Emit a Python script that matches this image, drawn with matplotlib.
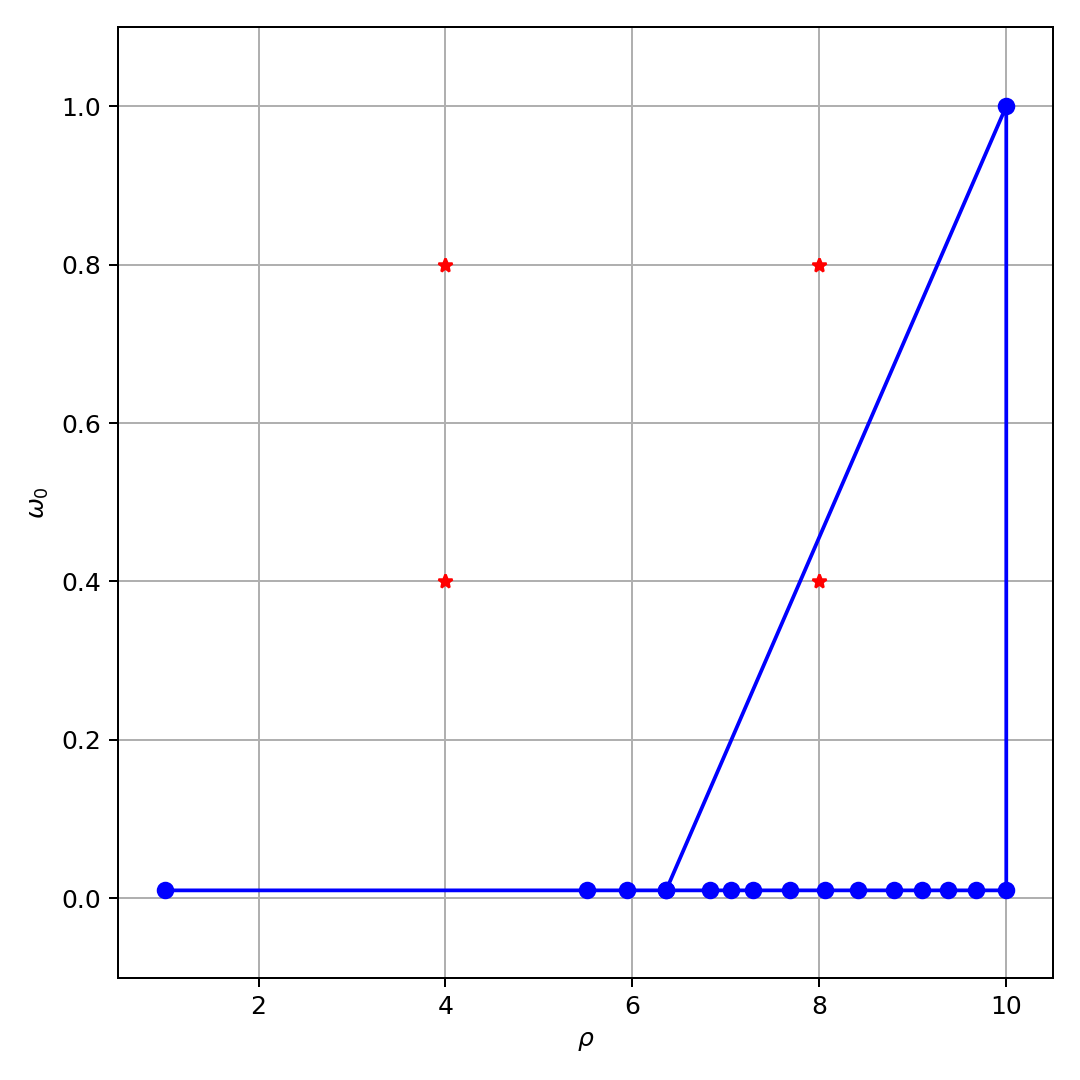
import matplotlib
matplotlib.use("Agg")
import matplotlib.pyplot as plt

# front points (rho, omega_0), in drawing order
rho = [1.0, 5.51, 5.94, 6.36, 6.83, 7.06, 7.29, 7.69, 8.06, 8.41, 8.80, 9.10, 9.38, 9.68, 10.0, 10.0, 6.36]
omega = [0.01, 0.01, 0.01, 0.01, 0.01, 0.01, 0.01, 0.01, 0.01, 0.01, 0.01, 0.01, 0.01, 0.01, 0.01, 1.0, 0.01]

# reference points
ref_rho = [4, 4, 8, 8]
ref_omega = [0.4, 0.8, 0.4, 0.8]

fig, ax = plt.subplots(figsize=(6, 6), dpi=180)
ax.plot(rho, omega, 'bo-')
ax.plot(ref_rho, ref_omega, 'r*')

ax.set_xlim(0.5, 10.5)
ax.set_ylim(-0.1, 1.1)
ax.set_xlabel(r'$\rho$')
ax.set_ylabel(r'$\omega_0$')
ax.grid(True)

plt.tight_layout()
plt.savefig('out.png')
